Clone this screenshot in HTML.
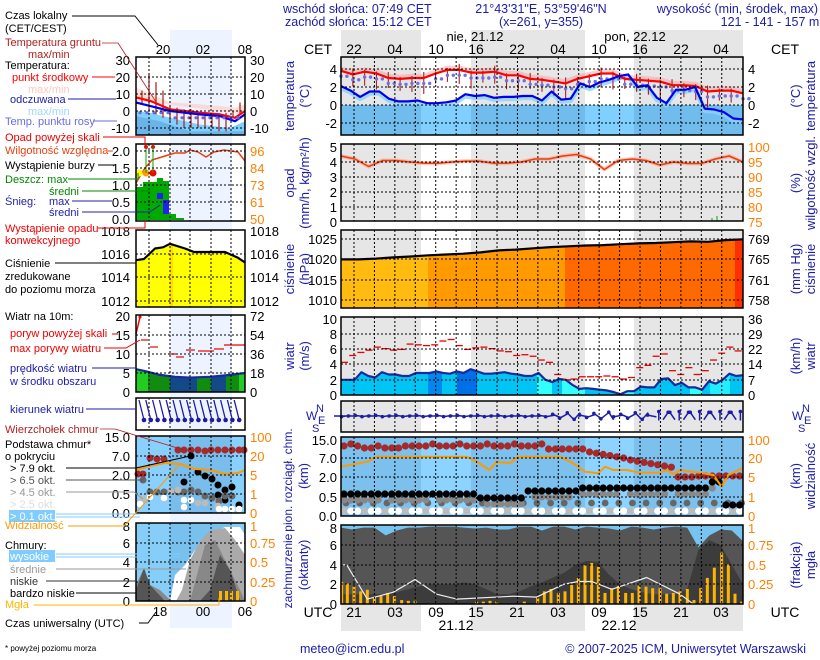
<!DOCTYPE html>
<html><head><meta charset="utf-8">
<style>
html,body{margin:0;padding:0;background:#fff;}
svg{display:block;font-family:"Liberation Sans",sans-serif;}
</style></head><body>
<svg id="s" width="820" height="660" viewBox="0 0 820 660" xmlns="http://www.w3.org/2000/svg"></svg>
<script>
(function(){
const S=[];const add=s=>S.push(s);
const NAV='#1c1ca8',OR='#ff8000';
function T(x,y,s,c,sz,a,ex){add(`<text x="${x}" y="${y}" fill="${c||'#000'}" font-size="${sz||12}" text-anchor="${a||'start'}" ${ex||''}>${s}</text>`);}
function R(x,y,s,c,sz){add(`<text transform="translate(${x},${y}) rotate(-90)" fill="${c||NAV}" font-size="${sz||13}" text-anchor="middle">${s}</text>`);}
function L(x1,y1,x2,y2,c,w,ex){add(`<line x1="${x1}" y1="${y1}" x2="${x2}" y2="${y2}" stroke="${c||'#000'}" stroke-width="${w||1}" ${ex||''}/>`);}
function P(pts,c,w,ex){add(`<polyline points="${pts.map(p=>p[0].toFixed(1)+','+p[1].toFixed(1)).join(' ')}" fill="none" stroke="${c}" stroke-width="${w||1}" stroke-linejoin="round" ${ex||''}/>`);}
function G(pts,c,ex){add(`<polygon points="${pts.map(p=>p[0].toFixed(1)+','+p[1].toFixed(1)).join(' ')}" fill="${c}" ${ex||''}/>`);}
function Rc(x,y,w,h,c,ex){add(`<rect x="${x}" y="${y}" width="${w}" height="${h}" fill="${c}" ${ex||''}/>`);}
function C(x,y,r,c){add(`<circle cx="${x}" cy="${y}" r="${r}" fill="${c}"/>`);}
const X0=341,X1=743;
const ev=(arr,fy,x0=X0,x1=X1)=>arr.map((v,i)=>[x0+i*(x1-x0)/(arr.length-1),fy(v)]);
const zx=z=>280+z/3, zy=z=>320+z/3;
const cols=[[341,421,1],[421,471,0],[471,585,1],[585,634,0],[634,743,1]];
function colsBg(y0,y1,g,w){cols.forEach(c=>Rc(c[0],y0,c[1]-c[0],y1-y0,c[2]?g:w));}
function vgrid(y0,y1){for(let k=0;k<19;k++){const x=354+k*20.43;if(x<742)L(x,y0,x,y1,'#000',1,'stroke-dasharray="2,2"');}}
function hgrid(ys,x0,x1){ys.forEach(y=>L(x0,y,x1,y,'#000',1,'stroke-dasharray="2,2"'));}
function frame(x0,y0,x1,y1){Rc(x0,y0,x1-x0,y1-y0,'none','stroke="#000" stroke-width="1.5"');}
function lgrid(y0,y1){[149,170,190,211,231].forEach(x=>L(x,y0,x,y1,'#000',1,'stroke-dasharray="2,2"'));}
let cid=0;function clip(pts){cid++;add(`<clipPath id="c${cid}"><polygon points="${pts.map(p=>p[0].toFixed(1)+','+p[1].toFixed(1)).join(' ')}"/></clipPath>`);return `clip-path="url(#c${cid})"`;}

// header
T(283,13,'wschód słońca: 07:49 CET',NAV,12.5);T(285,26,'zachód słońca: 15:12 CET',NAV,12.5);
T(541,13,'21°43\'31"E, 53°59\'46"N',NAV,12.5,'middle');T(541,26,'(x=261,  y=355)',NAV,12.5,'middle');
T(818,13,'wysokość (min, środek, max)',NAV,12.5,'end');T(770,26,'121 - 141 - 157 m',NAV,12.5,'middle');
colsBg(30,57,'#e6e6e6','#fff');colsBg(604,631,'#e6e6e6','#fff');
T(318,54,'CET','#000',14,'middle');T(785,54,'CET','#000',14,'middle');
[['22',354],['04',395],['10',436],['16',476],['22',517],['04',558],['10',599],['16',640],['22',681],['04',721]].forEach(a=>T(a[1],54,a[0],'#000',14,'middle'));
T(475,41,'nie, 21.12','#000',13,'middle');T(635,41,'pon, 22.12','#000',13,'middle');
T(318,617,'UTC','#000',14,'middle');T(785,617,'UTC','#000',14,'middle');
[['21',354],['03',395],['09',436],['15',476],['21',517],['03',558],['09',599],['15',640],['21',681],['03',721]].forEach(a=>T(a[1],617,a[0],'#000',14,'middle'));
T(456,630,'21.12','#000',14,'middle');T(619,630,'22.12','#000',14,'middle');

Rc(170,30,62,598,'#eef4ff');
T(163,54,'20','#000',13,'middle');T(203,54,'02','#000',13,'middle');T(245,54,'08','#000',13,'middle');

// MAIN TEMP
colsBg(57,135,'#e6e6e6','#fff');
Rc(341,105,402,30,'#80d0ff');[[341,421],[471,585],[634,743]].forEach(c=>Rc(c[0],105,c[1]-c[0],30,'#70bcec'));
const ty=v=>105-v*9;
const red=[3.8,3.4,3.7,3.5,3.0,2.9,3.0,3.0,3.5,3.9,3.9,3.6,3.6,3.7,3.3,3.3,2.9,2.8,2.6,2.4,2.9,3.2,3.5,3.5,2.9,2.8,2.7,2.6,2.2,2.2,2.1,1.5,1.6,1.6,1.3];
const blue=[2.1,1.6,0.9,1.5,1.5,0.7,0.4,0.4,0.5,0.2,0.2,0.3,0.5,1.2,1.0,1.1,0.8,0.9,0.9,1.0,1.0,0.5,1.5,0.6,0.7,2.4,2.0,2.5,2.8,3.2,3.4,2.0,2.2,0.8,0.2,1.7,1.7,2.0,-0.4,-0.5,-0.8,-1.5,-1.6];
P(ev(red,v=>ty(v+0.2)),'rgba(255,140,140,0.4)',5);
P(ev(blue,v=>ty(v-0.2)),'rgba(140,210,255,0.8)',5);
ev(red,ty).forEach((p,i)=>{if(i>0&&i<red.length-1){L(p[0],p[1]-(i%3==1?6:2),p[0],p[1]+10+(i%4)*2,'#b02020',1.1);}});
ev(red,v=>ty(v-0.6)).forEach((p,i)=>{C(p[0],p[1],1.7,'#7070e0');C(p[0]+5.9,p[1],1.7,'#7070e0');});
P(ev(red,ty),'#ff0000',2.2);P(ev(blue,ty),'#0000ee',2.2);
vgrid(57,135);hgrid([69,87,105,123],341,743);frame(341,57,743,135);
[['4',69],['2',87],['0',105],['-2',123]].forEach(a=>{T(337,a[1]+5,a[0],'#000',13,'end');T(748,a[1]+5,a[0],'#000',13);});
R(294,96,'temperatura');R(309,96,'(°C)');R(800,96,'(°C)');R(815,96,'temperatura');

// MAIN PRECIP
colsBg(144,221,'#e6e6e6','#fff');
const hy=v=>147+(100-v)*3;
const hum=[97,96,93.5,95.5,95.5,95,94.6,94.6,95,95.3,95.3,94.6,94.6,95,96,96,97,97.5,96,92.5,95.5,96,95.5,94,95,94.5,94.5,96,97,95];
P(ev(hum,hy),'rgba(255,150,120,0.5)',4);P(ev(hum,hy),'#e84010',1.5);
L(712,221,712,218,'#0a0',1);L(717,221,717,216,'#0a0',1);
vgrid(144,221);hgrid([162,177,192,207],341,743);frame(341,144,743,221);
[['5',147],['4',162],['3',177],['2',192],['1',207],['0',222]].forEach(a=>T(337,a[1]+5,a[0],'#000',13,'end'));
[['100',147],['95',162],['90',177],['85',192],['80',207],['75',222]].forEach(a=>T(748,a[1]+5,a[0],OR,13));
R(294,183,'opad');R(309,183,'(mm/h, kg/m²/h)');R(800,183,'(%)');R(815,183,'wilgotność wzgl.');

// MAIN PRESSURE
colsBg(230,308,'#e6e6e6','#fff');
const py=v=>259-(v-1020)*4.1;
const pr=[1019.9,1019.9,1020.1,1020.4,1020.6,1020.9,1021.1,1021.3,1021.6,1022.1,1022.3,1022.6,1022.9,1023.1,1023.3,1023.4,1023.6,1023.8,1023.9,1024.1,1024.3,1024.2,1024.6,1024.8];
const pp=ev(pr,py);const cp=clip([[341,308],...pp,[743,308]]);
[[341,428,'#ffbb10'],[428,565,'#ff9a00'],[565,735,'#ff6a00'],[735,743,'#ff3000']].forEach(c=>Rc(c[0],230,c[1]-c[0],78,c[2],cp));
P(pp,'#000',2.2);
vgrid(230,308);hgrid([239,259,280,300],341,743);frame(341,230,743,308);
[['1025',239],['1020',259],['1015',280],['1010',300]].forEach(a=>T(337,a[1]+5,a[0],'#000',13,'end'));
[['769',239],['765',259],['761',280],['758',300]].forEach(a=>T(748,a[1]+5,a[0],'#000',13));
R(294,269,'ciśnienie');R(309,269,'(hPa)');R(800,269,'(mm Hg)');R(815,269,'ciśnienie');

// MAIN WIND
colsBg(317,395,'#e6e6e6','#fff');
const wy=v=>395-v*7.6;
const ws=[2,2,2,3,2.5,2.3,3,2.7,2.7,2.5,2.5,2.9,2.9,2.9,3.1,2.9,2.8,3.1,2.9,3.4,3.1,2.8,2.8,2.9,3.0,2.8,2.7,2.5,2.5,2.9,2.0,1.7,2.1,2.0,1.3,0.8,0.9,0.8,0.7,0.6,0.4,0.1,0.5,0.5,1.1,1.0,1.0,2.1,2.2,1.3,1.6,1.0,1.0,0.7,1.8,1.5,2.0,2.8,2.5,2.6];
const wp=ev(ws,wy);const cw=clip([[341,395],...wp,[743,395]]);
Rc(341,317,402,78,'#00c4f4',cw);
[[428,442,'#0088ee'],[457,477,'#0070e8'],[537,552,'#33ffff'],[562,585,'#33ffff'],[620,634,'#33ffff'],[690,702,'#33ffff'],[710,730,'#22eeff']].forEach(c=>Rc(c[0],317,c[1]-c[0],78,c[2],cw));
P(wp,'#1a2a9c',2.2);
const gust=[[0,4.3],[1,5.2],[2,5.6],[3,5.9],[4,6.3],[5,6.1],[6,5.9],[7,6.0],[8,6.7],[9,6.6],[10,6.5],[11,6.6],[12,7.1],[13,7.3],[14,6.5],[15,6.0],[16,6.2],[17,6.3],[18,6.1],[19,5.8],[20,5.7],[21,5.2],[22,5.3],[23,5.1],[24,4.6],[25,4.3],[26,2.7],[27,2.0],[28,2.1],[29,2.4],[30,2.4],[31,2.4],[32,2.5],[33,2.4],[34,2.1],[35,2.3],[36,3.6],[37,3.9],[38,5.1],[39,5.4],[40,3.2],[41,2.7],[42,3.6],[43,2.7],[44,3.2],[45,4.6],[46,5.5],[47,6.3],[48,5.8]];
gust.forEach(g=>{const x=341+g[0]*8.2;L(x,wy(g[1]),x+7,wy(g[1]),'#ee0000',1.3);});
vgrid(317,395);hgrid([334,349,364,380],341,743);frame(341,317,743,395);
[['10',319],['8',334],['6',349],['4',364],['2',380],['0',395]].forEach(a=>T(337,a[1]+5,a[0],'#000',13,'end'));
[['36',319],['29',334],['22',349],['14',364],['7',380],['0',395]].forEach(a=>T(748,a[1]+5,a[0],'#000',13));
R(294,356,'wiatr');R(309,356,'(m/s)');R(800,356,'(km/h)');R(815,356,'wiatr');

// MAIN DIR
colsBg(401,432,'#e6e6e6','#fff');vgrid(401,432);
for(let i=0;i<59;i++){const x=343+i*6.8,y=416;let a;if(i<30)a=Math.PI+(i%3-1)*0.15;else if(i<46)a=Math.PI+(i%2?0.6:-0.5)*((i%5)+1)/3;else a=-Math.PI/2+(i%3-1)*0.6;
 const dx=Math.cos(a)*9,dy=Math.sin(a)*9;L(x-dx/2+3,y-dy/2,x+dx/2+3,y+dy/2,NAV,1.5);C(x+dx/2+3,y+dy/2,1.8,NAV);}
L(334,416,345,416,NAV,1.5);
frame(341,401,743,432);
T(306,420,'W',NAV,12);T(316,412,'N',NAV,11);T(318,424,'E',NAV,11);T(312,432,'S',NAV,11);
T(792,420,'W',NAV,12);T(802,412,'N',NAV,11);T(804,424,'E',NAV,11);T(798,432,'S',NAV,11);

// MAIN CLOUDS
colsBg(437,516,'#7cc0ee','#8cd4ff');
for(let i=0;i<59;i++){const x=344+i*6.82;
 const ry=i<30?446+(i%4==1?-2:0)+(i>2&&i<10?2:0):(i<36?449:i<42?452+(i-36)*1.2:i<49?460+(i-42)*1.2:i<52?477:476);
 C(x,ry,3.6,'#a52a2a');
 const by=i<20?494:i<27?498:i<35?491:i<54?488:(i<56?482:505);
 C(x,511,3.6,i%3==0?'#bbb':'#fff');
 if(i%2==0)C(x+2,503,3.4,'#666');
 if(i%7!=6&&by<500)C(x,by+6,3.6,'#888');C(x,by,3.6,'#000');}
const vis=[[182,440],[262,425],[290,410],[560,410],[590,425],[628,450],[650,425],[690,430],[715,410],[840,410],[880,430],[915,455],[955,460],[975,440],[1000,450],[1040,450],[1080,458],[1140,458],[1160,450],[1180,462],[1200,450],[1260,458],[1300,465],[1325,500],[1345,465],[1387,445]].map(p=>[zx(p[0]),zy(p[1])]);
P(vis,'#ff9900',2);
vgrid(437,516);hgrid([458,477,497],341,743);frame(341,437,743,516);
[['15.0',440],['7.0',458],['2.0',477],['0.5',497],['0.0',516]].forEach(a=>T(337,a[1]+5,a[0],'#000',13,'end'));
[['100',440],['20',458],['5',477],['1',497],['0',516]].forEach(a=>T(748,a[1]+5,a[0],OR,13));
R(292,480,'pion. rozciągł. chm.',NAV,12);R(308,476,'(km)');R(800,476,'(km)');R(815,476,'widzialność');

// MAIN COVER
Rc(341,525,402,79,'#78c4f0');
const cvy=v=>604-v*9.8;
const ctop=[7.8,7.6,7.8,7.8,7.0,7.5,7.8,7.8,7.9,7.9,7.9,7.8,7.7,7.8,7.6,7.6,7.9,7.9,7.5,7.9,7.9,7.6,7.9,7.8,7.7,7.5,7.9,7.8,7.6,7.8,7.9,7.8,5.8,7.0,7.6,7.5,6.4];
G([[341,604],...ev(ctop,cvy),[743,604]],'#555');
const low=[1,1,1,1,1,1.2,1.5,1.8,2,2,2,2.2,2,1.5,1,1,1.3,1.8,2.2,2.7,3.2,4,4.4,4.3,3,2,1.5,1.2,1,1,1,1.5,5.5,6.5,6,4,2];
G([[341,604],...ev(low,cvy),[743,604]],'#3c3c3c');
const bars=[[185,.28],[202,.26],[222,.22],[242,.16],[262,.18],[283,.09],[303,.1],[323,.14],[343,.1],[365,.05],[385,.04],[405,.04],[590,.03],[610,.03],[630,.04],[650,.03],[733,.03],[773,.08],[793,.16],[813,.19],[835,.14],[855,.16],[875,.24],[895,.33],[915,.49],[935,.52],[955,.47],[975,.14],[995,.2],[1015,.23],[1037,.14],[1057,.14],[1077,.23],[1098,.22],[1118,.2],[1140,.2],[1160,.13],[1180,.14],[1200,.16],[1222,.19],[1242,.05],[1262,.2],[1282,.33],[1303,.46],[1325,.65],[1345,.5],[1365,.13],[1385,.03]];
bars.forEach(b=>{const h=b[1]*79;Rc(zx(b[0])-1.5,604-h,3,h,'#ffb400');});
const wl=[[182,4],[200,4],[262,0.5],[340,1.2],[405,2.5],[470,1],[530,0.5],[700,0.8],[770,0.7],[850,2],[895,2.3],[935,2.3],[995,1.5],[1100,2.7],[1200,1],[1240,0]].map(p=>[zx(p[0]),cvy(p[1])]);
P(wl,'#eee',1.2);
vgrid(525,604);hgrid([545,565,584],341,743);frame(341,525,743,604);
[['8',528],['6',545],['4',565],['2',584],['0',604]].forEach(a=>T(337,a[1]+5,a[0],'#000',13,'end'));
[['1',528],['0.75',545],['0.5',565],['0.25',584],['0',604]].forEach(a=>T(748,a[1]+5,a[0],OR,13));
R(292,571,'zachmurzenie',NAV,12);R(308,565,'(oktanty)');R(800,565,'(frakcja)');R(815,565,'mgła');

// LEFT temp
Rc(136,57,109,78,'#fff');Rc(170,57,62,78,'#eef4ff');
const lty=v=>111-v*1.7;
G([[136,135],[136,lty(0)],[150,lty(-1)],[170,lty(-4)],[200,lty(-8)],[230,lty(-10)],[245,lty(-6)],[245,135]],'#80d0ff');
G([[136,135],[136,lty(-3)],[160,lty(-6)],[190,lty(-12)],[245,lty(-12)],[245,135]],'#6cb4e8');
G([[136,lty(14)],[150,lty(10)],[170,lty(5)],[200,lty(4)],[235,lty(2)],[245,lty(4)],[245,lty(-2)],[136,lty(6)]],'rgba(255,200,190,0.6)');
[[142,12,4],[149,22,0],[156,17,-2],[163,12,-4],[170,3,-6],[177,2,-8],[184,1,-10],[191,1,-10],[198,0,-10],[205,-1,-10],[212,-1,-10],[219,-2,-12],[226,-1,-12],[233,0,-4],[240,5,-2]].forEach(a=>L(a[0],lty(a[1]),a[0],lty(a[2]),'#a02020',1.2));
P([[136,lty(8)],[150,lty(6)],[170,lty(1)],[200,lty(-1)],[220,lty(-2)],[235,lty(-4)],[245,lty(0)]],'#f00',2.2);
P([[136,lty(5)],[150,lty(3)],[170,lty(0)],[200,lty(-2)],[220,lty(-3)],[235,lty(-6)],[245,lty(-2)]],'#00e',2.2);
for(let x=140;x<245;x+=7)C(x,lty(x<170?-1:-4),1.6,'#6a6ae0');
lgrid(57,135);hgrid([77,94,111,128],136,245);frame(136,57,245,135);
[['30',60],['20',77],['10',94],['0',111],['-10',128]].forEach(a=>{T(130,a[1]+5,a[0],'#000',13,'end');T(250,a[1]+5,a[0],'#000',13);});
// LEFT precip
Rc(136,144,109,77,'#fff');Rc(170,144,62,77,'#eef4ff');
Rc(136,187,7,33,'#0a0');Rc(143,182,14,38,'#0a0');Rc(157,178,6,42,'#0a0');Rc(163,181,6,39,'#0a0');Rc(163,200,6,20,'#22e');Rc(157,193,6,6,'#22e');Rc(163,214,13,6,'#0a0');Rc(176,218,8,2,'#0a0');
P([[136,183],[145,168],[152,160],[165,156],[175,153],[185,153],[190,150],[198,152],[206,157],[214,152],[224,150],[238,152],[245,161]],'#e84010',1.5);
C(139,173,3.5,'#ff0');C(146,173,3.5,'#f90');C(153,173,3.5,'#f00');
C(146,147,2,'#f00');C(153,147,2,'#f00');L(146,147,146,173,'#0a0',1);L(153,147,153,173,'#0a0',1);
lgrid(144,221);hgrid([151,168,185,202],136,245);frame(136,144,245,221);
[['2.0',151],['1.5',168],['1.0',185],['0.5',202],['0.0',219]].forEach(a=>T(130,a[1]+5,a[0],'#000',13,'end'));
[['96',151],['84',168],['73',185],['61',202],['50',219]].forEach(a=>T(250,a[1]+5,a[0],OR,13));
// LEFT pressure
Rc(136,230,109,77,'#fff');
const lpy=v=>301-(v-1012)*11.67;
const lpp=[[136,lpy(1015.5)],[144,lpy(1015.6)],[155,lpy(1016.5)],[163,lpy(1016.6)],[170,lpy(1016.9)],[185,lpy(1016.5)],[194,lpy(1016.2)],[225,lpy(1016.2)],[238,lpy(1015.7)],[245,lpy(1015.3)]];
G([[136,307],...lpp,[245,307]],'#ffff00');G([[170,307],[170,lpy(1016.9)],[173,lpy(1016.8)],[173,307]],'#ffdd00');
P(lpp,'#000',2.2);
lgrid(230,307);hgrid([254,277,301],136,245);frame(136,230,245,307);
[['1018',231],['1016',254],['1014',277],['1012',301]].forEach(a=>{T(130,a[1]+5,a[0],'#000',13,'end');T(250,a[1]+5,a[0],'#000',13);});
// LEFT wind
Rc(136,315,109,77,'#fff');Rc(170,315,62,77,'#eef4ff');
const lwy=v=>392-v*3.8;
const lwp=[[136,lwy(6)],[145,lwy(5.5)],[160,lwy(4.5)],[175,lwy(4)],[190,lwy(3.8)],[210,lwy(4)],[230,lwy(4.5)],[245,lwy(5)]];
const cl=clip([[136,392],...lwp,[245,392]]);
Rc(136,315,109,77,'#108c10',cl);Rc(136,315,12,77,'#22cc22',cl);Rc(170,315,27,77,'#124a88',cl);Rc(211,315,15,77,'#124a88',cl);Rc(239,315,6,77,'#22cc22',cl);
P(lwp,'#1a2a9c',2.2);
P([[136,334],[140,317]],'#e00',1.5);C(140,317,1.5,'#e00');
[[141,340,148],[150,347,158],[168,354,176],[176,357,184],[186,350,195],[198,351,214],[214,349,224],[224,345,245]].forEach(a=>L(a[0],a[1],a[2],a[1],'#e00',1.2));
lgrid(315,392);hgrid([335,354,373],136,245);frame(136,315,245,392);
[['20',316],['15',335],['10',354],['5',373],['0',392]].forEach(a=>T(130,a[1]+5,a[0],'#000',13,'end'));
[['72',316],['54',335],['36',354],['18',373],['0',392]].forEach(a=>T(250,a[1]+5,a[0],'#000',13));
// LEFT dir
Rc(136,398,109,32,'#fff');Rc(170,398,62,32,'#eef4ff');lgrid(398,430);
for(let x=139;x<240;x+=6.8){L(x,400,x+5,420,NAV,1.3);C(x+5,420,2.3,NAV);}
frame(136,398,245,430);
// LEFT clouds
Rc(136,436,109,77,'#8ad0ff');Rc(170,436,62,77,'#78bdec');
[[178,450],[184,450],[191,450],[198,450],[205,451],[211,450],[218,450],[225,450],[232,450],[239,450],[244,450]].forEach(p=>C(p[0],p[1],3.5,'#a52a2a'));
[[150,458],[157,459],[164,459],[138,474],[143,474]].forEach(p=>C(p[0],p[1],3.5,'#a52a2a'));
[[191,456],[198,472],[205,476],[212,479],[218,485],[225,490],[232,487],[184,482],[218,495],[225,500],[239,505]].forEach(p=>C(p[0],p[1],3.5,'#000'));
[[143,480],[150,492],[157,492],[164,492],[171,491],[178,492],[184,492],[191,490],[198,492],[205,496],[212,498],[219,501],[225,496],[232,496]].forEach(p=>C(p[0],p[1],3.5,'#666'));
[[171,491],[178,490],[143,499],[164,499],[198,503],[205,503],[218,506]].forEach(p=>C(p[0],p[1],3.4,'#bbb'));
[[140,504],[150,497],[164,498],[184,500],[191,500],[219,509],[225,509],[232,509],[239,509],[184,507]].forEach(p=>C(p[0],p[1],3.3,'#fff'));
P([[136,470],[150,466],[165,463],[180,464],[195,469],[210,470],[225,474],[238,473],[245,470]],'#ff9900',2);
lgrid(436,513);hgrid([456,475,494],136,245);frame(136,436,245,513);
[['15.0',437],['7.0',456],['2.0',475],['0.5',494],['0.0',513]].forEach(a=>T(130,a[1]+5,a[0],'#000',13,'end'));
[['100',437],['20',456],['5',475],['1',494],['0',513]].forEach(a=>T(250,a[1]+5,a[0],OR,13));
// LEFT cover
Rc(136,523,109,78,'#86cef8');Rc(170,523,62,78,'#78c0ee');
G([[170,601],[175,575],[185,565],[195,550],[200,545],[210,535],[215,532],[225,527],[240,527],[245,535],[245,601]],'#fff');
G([[176,601],[182,590],[190,560],[198,545],[205,535],[212,530],[225,528],[235,540],[245,555],[245,601]],'#aaa');
G([[136,601],[136,585],[143,570],[150,585],[160,590],[170,600],[190,601],[205,545],[215,540],[225,560],[240,590],[245,601]],'#888');
G([[136,601],[136,590],[144,568],[150,585],[165,601]],'#555');G([[200,601],[210,590],[220,555],[230,570],[240,600]],'#555');
[219,225,230,236].forEach(x=>Rc(x,591,3,10,'#ffb400'));
lgrid(523,601);hgrid([543,562,582],136,245);frame(136,523,245,601);
[['8',526],['6',543],['4',562],['2',582],['0',601]].forEach(a=>T(130,a[1]+5,a[0],'#000',13,'end'));
[['1',526],['0.75',543],['0.5',562],['0.25',582],['0',601]].forEach(a=>T(250,a[1]+5,a[0],OR,13));
T(160,616,'18','#000',13,'middle');T(203,616,'00','#000',13,'middle');T(245,616,'06','#000',13,'middle');

// LEFT LABELS
const F=11;
T(5,19,'Czas lokalny','#000',F);T(5,32,'(CET/CEST)','#000',F);P([[72,16],[135,16],[158,45]],'#000',1);
T(5,46,'Temperatura gruntu','#b02020',F);T(28,58,'max/min','#b02020',F);P([[102,43],[118,43],[158,105]],'#b02020',0.8);
T(5,69,'Temperatura:','#000',F);
T(12,81,'punkt środkowy','#f00',F);P([[92,77],[115,77]],'#f00',1);
T(28,93,'max/min','#ffc8c0',F);
T(10,103,'odczuwana',NAV,F);P([[68,99],[116,99]],NAV,1);
T(28,115,'max/min','#a0d8ff',F);
T(5,125,'Temp. punktu rosy','#6a6ae0',F);P([[94,121],[117,121]],'#6a6ae0',1);
T(5,141,'Opad powyżej skali','#e00',F);P([[103,137],[145,137],[145,147]],'#e00',1);
T(5,154,'Wilgotność względna','#e84010',F);P([[108,151],[113,151]],'#e84010',1);
T(5,169,'Wystąpienie burzy','#000',F);P([[98,165],[115,165]],'#000',1);
T(5,183,'Deszcz: max','#080',F);P([[68,179],[138,179],[138,173]],'#080',1);
T(49,195,'średni','#080',F);P([[82,191],[150,191]],'#080',1);
T(5,205,'Śnieg:','#22a',F);T(49,205,'max','#22a',F);P([[72,201],[112,201]],'#22a',1);
T(49,216,'średni','#22a',F);P([[82,212],[150,212],[160,205]],'#22a',1);
T(5,232,'Wystąpienie opadu','#e00',F);T(5,244,'konwekcyjnego','#e00',F);P([[98,228],[145,228],[145,221]],'#e00',1);
T(5,267,'Ciśnienie','#000',F);P([[55,263],[136,263]],'#000',1);T(5,280,'zredukowane','#000',F);T(5,293,'do poziomu morza','#000',F);
T(5,320,'Wiatr na 10m:','#000',F);
T(10,337,'poryw powyżej skali','#e00',F);P([[112,334],[118,334]],'#e00',1);
T(10,352,'max porywy wiatru','#e00',F);P([[104,348],[126,348],[140,340]],'#e00',1);
T(10,372,'prędkość wiatru',NAV,F);P([[92,368],[136,368]],NAV,1);T(10,385,'w środku obszaru',NAV,F);
T(10,413,'kierunek wiatru',NAV,F);P([[86,409],[136,409]],NAV,1);
T(5,433,'Wierzchołek chmur','#b02020',F);P([[100,429],[115,429],[184,450]],'#b02020',0.8);
T(5,448,'Podstawa chmur*','#000',F);T(5,460,'o pokryciu','#000',F);
T(10,472,'> 7.9 okt.','#000',F);P([[66,468],[136,468],[190,456]],'#000',1);
T(10,484,'> 6.5 okt.','#555',F);P([[66,480],[143,480]],'#555',1);
T(10,496,'> 4.5 okt.','#999',F);P([[66,492],[134,492],[143,499]],'#999',1);
T(10,508,'> 2.5 okt.','#ddd',F);
Rc(9,510,46,12,'#80ccff');T(10,520,'> 0.1 okt.','#fff',F);L(56,514,140,514,'#80ccff',1);L(56,517,140,517,'#80ccff',1);
T(5,529,'Widzialność','#ff9900',F);P([[68,526],[124,526],[180,464]],'#ff9900',1);
T(5,549,'Chmury:','#000',F);
Rc(9,550,46,12,'#80ccff');T(10,560,'wysokie','#fff',F);L(56,554,180,554,'#80ccff',1);L(56,557,180,557,'#80ccff',1);
T(10,573,'średnie','#999',F);P([[56,569],[186,569]],'#999',1);
T(10,585,'niskie','#333',F);P([[46,581],[136,581]],'#333',1);
T(10,597,'bardzo niskie','#000',F);P([[76,593],[136,593]],'#000',1);
T(5,608,'Mgła','#ffb400',F);P([[34,605],[219,605],[219,598]],'#ffb400',1);
T(5,627,'Czas uniwersalny (UTC)','#000',F);P([[139,623],[148,623],[156,612]],'#000',1);
T(5,651,'* powyżej poziomu morza','#000',8);
T(300,653,'meteo@icm.edu.pl',NAV,12.5);T(806,653,'© 2007-2025 ICM, Uniwersytet Warszawski',NAV,12.5,'end');
document.getElementById('s').innerHTML=S.join('');
})();
</script>
</body></html>
